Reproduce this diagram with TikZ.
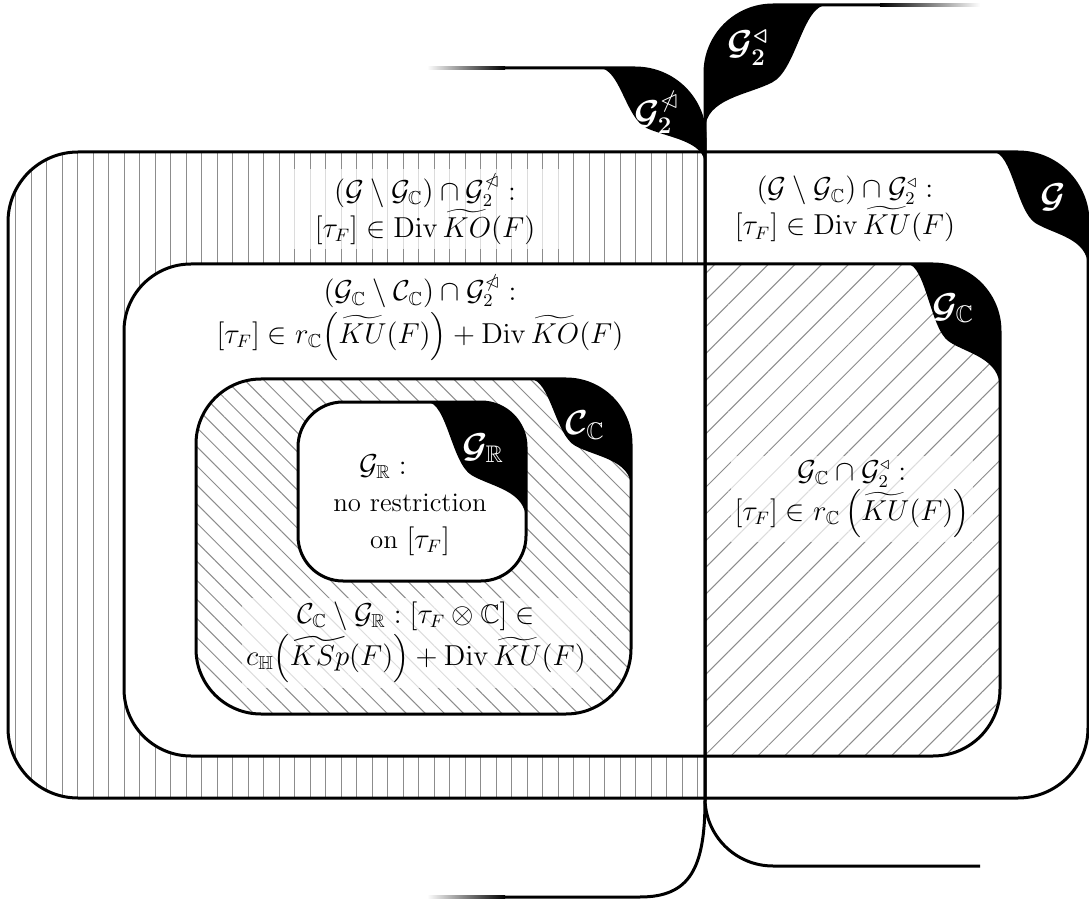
\documentclass[tikz,border=0pt]{standalone}
\usepackage{amsmath,amssymb}
\usetikzlibrary{patterns.meta}
\newcommand{\mytabfill}[4]{\fill[black,shift={(#1,#2)},xscale=#3,yscale=#4] (-1,0) .. controls (-0.8,0) and (-0.75,0.52) .. (-0.55,0.62) .. controls (-0.35,0.72) and (0,0.75) .. (0,1) -- (0.6,1) -- (0.6,-0.6) -- (-1,-0.6) -- cycle;}
\newcommand{\mytxtsize}{\fontsize{13.4}{18.5}\selectfont}
\tikzset{
  bound/.style={line width=1.5pt, black},
  vstripes/.style={pattern={Lines[angle=90,distance=7.75pt,line width=0.5pt]}, pattern color=black!45},
  nehatch/.style={pattern={Lines[angle=45,distance=9.45pt,line width=0.5pt]}, pattern color=black!45},
  nwhatch/.style={pattern={Lines[angle=-45,distance=6.75pt,line width=0.5pt]}, pattern color=black!45},
  lbl/.style={text=white, font=\LARGE\boldmath, inner sep=0pt},
  txt/.style={align=center, font=\mytxtsize, inner sep=2pt},
  txtbg/.style={txt, fill=white, fill opacity=0.7, text opacity=1},
}
\begin{document}
\begin{tikzpicture}[x=0.5pt,y=-0.5pt]
\useasboundingbox (0,0) rectangle (1089,899);

% ---- outer region G: left part striped
\begin{scope}
  \clip[rounded corners=35pt] (8,152) rectangle (1088,798);
  \fill[vstripes] (0,140) rectangle (705,810);
\end{scope}

% ---- G_C: white, right part hatched
\fill[white, rounded corners=33.5pt] (124,264) rectangle (1000,756);
\begin{scope}
  \clip[rounded corners=33.5pt] (124,264) rectangle (1000,756);
  \fill[nehatch] (705,250) rectangle (1010,770);
\end{scope}

% ---- C_C: hatched
\fill[white, rounded corners=32.5pt] (196,379) rectangle (631,714);
\fill[nwhatch, rounded corners=32.5pt] (196,379) rectangle (631,714);

% ---- G_R: white
\fill[white, rounded corners=22.5pt] (298,402) rectangle (526,581);

% ---- outlines
\draw[bound, rounded corners=35pt] (8,152) rectangle (1088,798);
\draw[bound, rounded corners=33.5pt] (124,264) rectangle (1000,756);
\draw[bound, rounded corners=32.5pt] (196,379) rectangle (631,714);
\draw[bound, rounded corners=22.5pt] (298,402) rectangle (526,581);

% ---- G2 (not normal) boundary
\draw[bound] (500,68) -- (635,68) .. controls (674,68) and (705,99) .. (705,138)
  -- (705,800) .. controls (705,868) and (690,897) .. (640,897) -- (500,897);
\shade[left color=white, right color=black] (427,66.5) rectangle (505,69.5);
\shade[left color=white, right color=black] (427,895.5) rectangle (505,898.5);

% ---- G2 (normal) boundary
\draw[bound, rounded corners=34pt] (885,5) -- (705,5) -- (705,866) -- (980,866);
\shade[left color=black, right color=white] (880,3.5) rectangle (980,6.5);

% ---- tabs
\begin{scope}
  \clip[rounded corners=35pt] (8,152) rectangle (1088,798);
  \mytabfill{1088}{152}{95}{115}
\end{scope}
\begin{scope}
  \clip[rounded corners=33.5pt] (124,264) rectangle (1000,756);
  \mytabfill{1000}{264}{93}{125}
\end{scope}
\begin{scope}
  \clip[rounded corners=32.5pt] (196,379) rectangle (631,714);
  \mytabfill{631}{379}{101}{108}
\end{scope}
\begin{scope}
  \clip[rounded corners=22.5pt] (298,402) rectangle (526,581);
  \mytabfill{526}{402}{99}{118}
\end{scope}
\begin{scope}
  \clip (400,68) -- (635,68) .. controls (674,68) and (705,99) .. (705,138) -- (705,897) -- (400,897) -- cycle;
  \mytabfill{705}{68}{106}{97}
\end{scope}
\begin{scope}
  \clip[rounded corners=34pt] (1000,5) -- (705,5) -- (705,866) -- (1000,866) -- cycle;
  \mytabfill{705}{5}{-122}{125}
\end{scope}

% ---- tab labels
\node[lbl] (lG) at (1053,197) {$\mathcal{G}$};
\node[lbl] (lGC) at (953,308) {$\mathcal{G}_{\mathbb{C}}$};
\node[lbl] (lCC) at (585,425) {$\mathcal{C}_{\mathbb{C}}$};
\node[lbl] (lGR) at (483,448) {$\mathcal{G}_{\mathbb{R}}$};
\node[lbl] (lGn) at (657,112) {$\mathcal{G}_2^{\ntriangleleft}$};
\node[lbl] (lGt) at (748,48) {$\mathcal{G}_2^{\triangleleft}$};

% ---- region texts
\node[txtbg, inner xsep=12pt] (t1) at (425,209)
  {$(\mathcal{G}\setminus\mathcal{G}_{\mathbb{C}})\cap\mathcal{G}_2^{\ntriangleleft}:$\\
   $[\tau_F]\in\mathrm{Div}\,\widetilde{KO}(F)$};
\node[txt] (t2) at (845,209)
  {$(\mathcal{G}\setminus\mathcal{G}_{\mathbb{C}})\cap\mathcal{G}_2^{\triangleleft}:$\\
   $[\tau_F]\in\mathrm{Div}\,\widetilde{KU}(F)$};
\node[txt] (t3) at (420,318)
  {$(\mathcal{G}_{\mathbb{C}}\setminus\mathcal{C}_{\mathbb{C}})\cap\mathcal{G}_2^{\ntriangleleft}:$\\
   $[\tau_F]\in r_{\mathbb{C}}\Bigl(\widetilde{KU}(F)\Bigr)+\mathrm{Div}\,\widetilde{KO}(F)$};
\node[txtbg] (t4) at (852,499)
  {$\mathcal{G}_{\mathbb{C}}\cap\mathcal{G}_2^{\triangleleft}:$\\
   $[\tau_F]\in r_{\mathbb{C}}\left(\widetilde{KU}(F)\right)$};
\node[txt] (t5) at (410,505)
  {$\mathcal{G}_{\mathbb{R}}:$\hspace*{27pt}\\ no restriction\\ on $[\tau_F]$};
\node[txtbg] (t6) at (416,643)
  {$\mathcal{C}_{\mathbb{C}}\setminus\mathcal{G}_{\mathbb{R}}:[\tau_F\otimes\mathbb{C}]\in$\\
   $c_{\mathbb{H}}\Bigl(\widetilde{KSp}(F)\Bigr)+\mathrm{Div}\,\widetilde{KU}(F)$};
\end{tikzpicture}
\end{document}
